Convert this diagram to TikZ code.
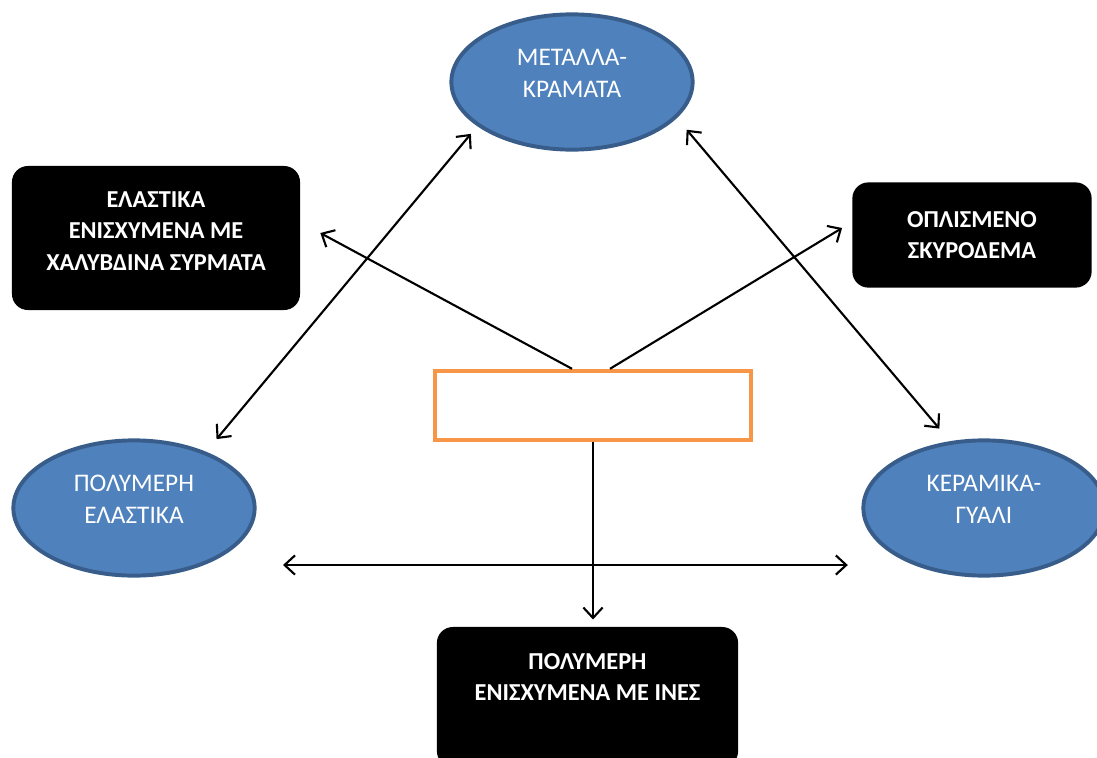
\documentclass[tikz,border=0pt]{standalone}
\usepackage{fontspec}
\setmainfont{Carlito}
\usetikzlibrary{arrows.meta,shapes.geometric}
\definecolor{matfill}{HTML}{4F81BD}
\definecolor{matline}{HTML}{385D8A}
\definecolor{coreline}{HTML}{F79646}

\begin{document}
\begin{tikzpicture}[x=0.025cm, y=-0.025cm,
  material/.style={ellipse, draw=matline, line width=2.8pt, fill=matfill, text=white, align=center,
    minimum width=6.03cm, minimum height=3.38cm, text depth=0.45cm, font=\fontsize{18}{22.7}\selectfont},
  compo/.style={fill=black, rounded corners=0.4cm, text=white, align=center,
    font=\fontsize{17.3}{22.3}\selectfont\bfseries},
  arrow/.style={-{Straight Barb[length=2.6mm,width=4.8mm]}, line width=1.5pt},
  biarrow/.style={{Straight Barb[length=2.6mm,width=4.8mm]}-{Straight Barb[length=2.6mm,width=4.8mm]}, line width=1.5pt},
]
\useasboundingbox (0,0) rectangle (1097,757);
% --- material families (ellipses) ---
\node[material] (metal) at (572,82) {ΜΕΤΑΛΛΑ-\\ΚΡΑΜΑΤΑ};
\node[material] (poly) at (134,508) {ΠΟΛΥΜΕΡΗ\\ΕΛΑΣΤΙΚΑ};
\node[material] (ceram) at (984,508) {ΚΕΡΑΜΙΚΑ-\\ΓΥΑΛΙ};
% --- composites (black boxes) ---
\node[compo, minimum width=7.2cm, minimum height=3.6cm, text depth=0.35cm] (rubber) at (156,238) {ΕΛΑΣΤΙΚΑ\\ΕΝΙΣΧΥΜΕΝΑ ΜΕ\\ΧΑΛΥΒΔΙΝΑ ΣΥΡΜΑΤΑ};
\node[compo, minimum width=5.98cm, minimum height=2.63cm] (concrete) at (972,235) {ΟΠΛΙΣΜΕΝΟ\\ΣΚΥΡΟΔΕΜΑ};
\node[compo, minimum width=7.53cm, minimum height=3.5cm, text depth=1.0cm] (fibre) at (587.5,697) {ΠΟΛΥΜΕΡΗ\\ΕΝΙΣΧΥΜΕΝΑ ΜΕ ΙΝΕΣ};
% --- centre (empty frame) ---
\node[draw=coreline, line width=3pt, minimum width=7.9cm, minimum height=1.73cm] (core) at (593,405.5) {};
% --- arrows between families ---
\draw[biarrow, shorten <=0.25cm, shorten >=0.41cm] (metal.205) -- (poly.38);
\draw[biarrow, shorten <=0.38cm, shorten >=0.41cm] (metal.341.5) -- (ceram.117);
\draw[biarrow] ([xshift=0.66cm,yshift=-1.425cm]poly.east) -- ([xshift=-0.34cm,yshift=-1.425cm]ceram.west);
% --- arrows from centre ---
\draw[arrow] ([xshift=-0.525cm]core.north) -- ([xshift=0.5cm,yshift=0.125cm]rubber.east);
\draw[arrow] ([xshift=0.425cm]core.north) -- ([xshift=-0.25cm,yshift=0.175cm]concrete.west);
\draw[arrow, shorten >=0.18cm] (core.south) -- (core.south |- fibre.north);
\end{tikzpicture}
\end{document}
